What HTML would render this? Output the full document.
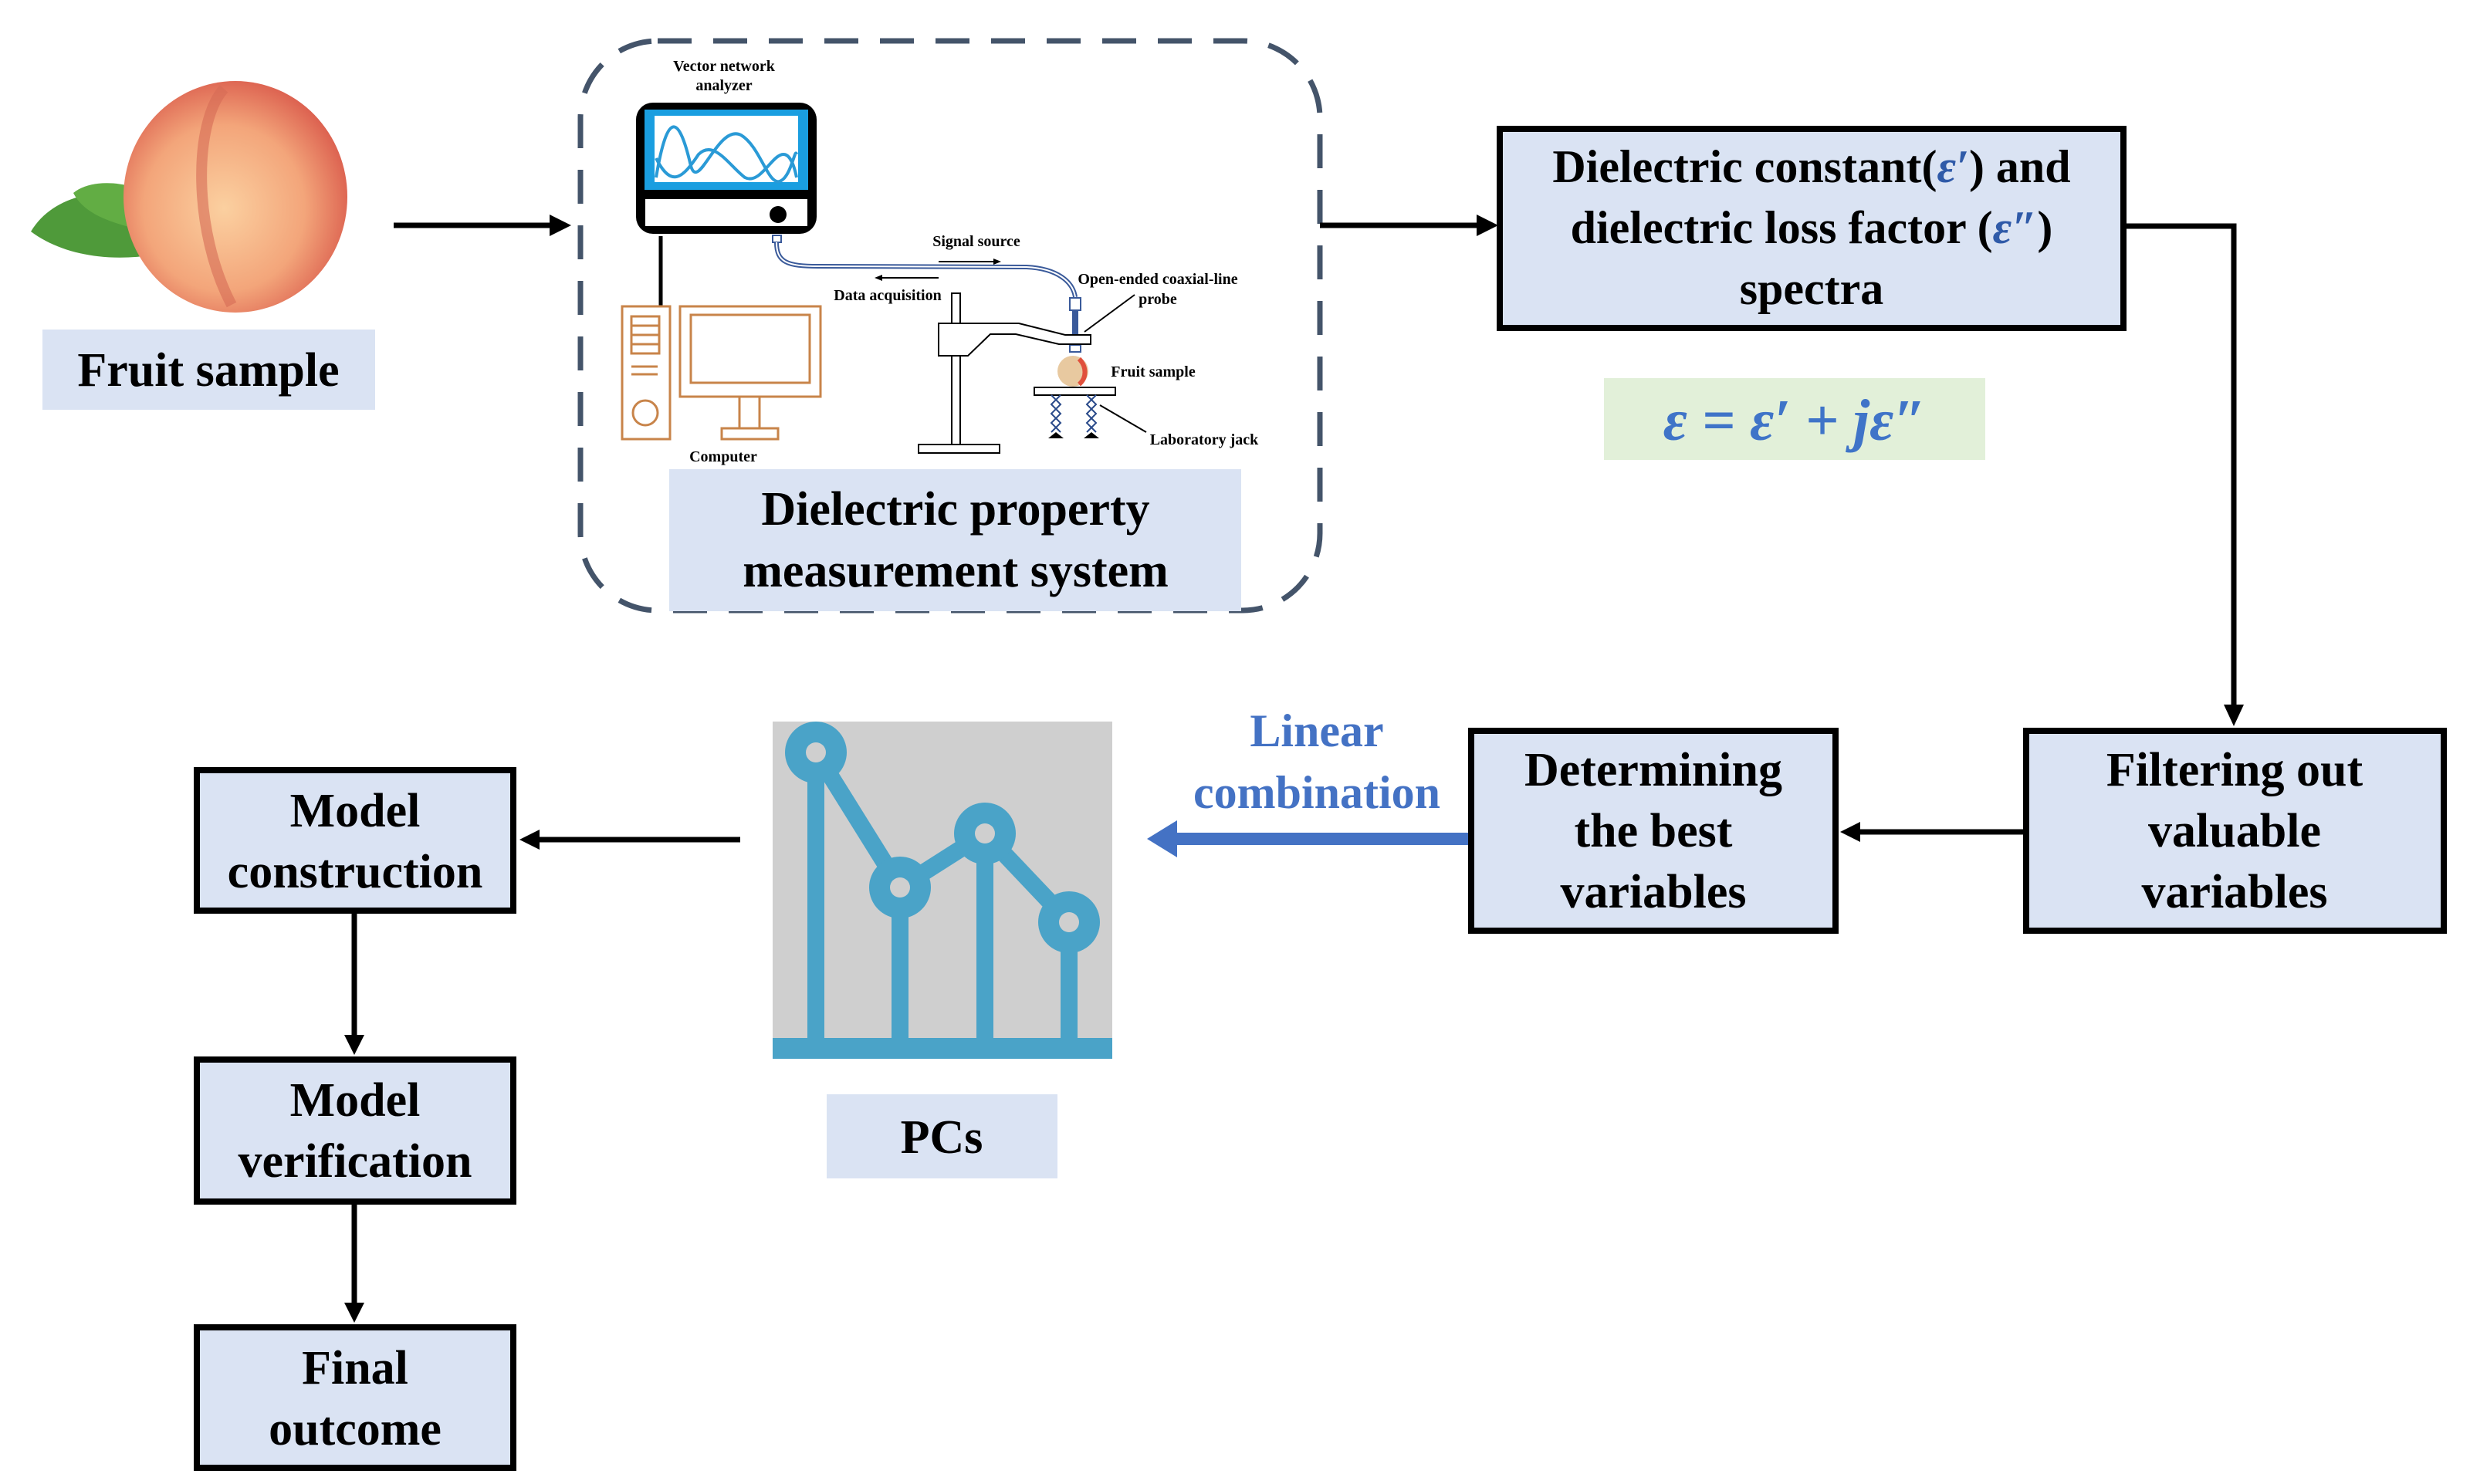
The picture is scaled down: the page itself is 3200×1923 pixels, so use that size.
<!DOCTYPE html>
<html><head><meta charset="utf-8"><style>
html,body{margin:0;padding:0;background:#fff}
svg{display:block}
text{font-family:"Liberation Serif",serif;font-weight:bold}
</style></head><body>
<svg width="3200" height="1923" viewBox="0 0 3200 1923" xmlns="http://www.w3.org/2000/svg">
<defs>
<radialGradient id="pg" cx="0.45" cy="0.55" r="0.6">
<stop offset="0" stop-color="#fbd0a0"/><stop offset="0.6" stop-color="#f3a57a"/><stop offset="1" stop-color="#d9584a"/>
</radialGradient>
<marker id="ah" markerWidth="6" markerHeight="6" refX="5" refY="3" orient="auto" markerUnits="strokeWidth"><path d="M0,0 L6,3 L0,6 z" fill="#000"/></marker>
</defs>
<!-- peach -->
<path d="M40,300 C70,250 140,240 190,260 L200,330 C140,340 80,330 40,300z" fill="#4f9a3a"/>
<path d="M95,250 C120,230 170,235 200,255 L190,300 C150,290 110,280 95,250z" fill="#62ad44"/>
<ellipse cx="305" cy="255" rx="145" ry="150" fill="url(#pg)"/>
<path d="M290,115 C250,160 250,300 300,395" stroke="#d66a55" stroke-width="14" fill="none" opacity="0.6"/>
<!-- Fruit sample label -->
<rect x="55" y="427" width="431" height="104" fill="#dae3f3"/>
<text x="270" y="500" font-size="62" text-anchor="middle">Fruit sample</text>
<!-- arrow1 -->
<line x1="510" y1="292" x2="715" y2="292" stroke="#000" stroke-width="7"/>
<path d="M740,292 L712,278 L712,306z" fill="#000"/>
<!-- dashed box -->
<rect x="752" y="53" width="958" height="738" rx="100" fill="none" stroke="#44546a" stroke-width="7" stroke-dasharray="44,28"/>
<!-- device -->
<rect x="824" y="133" width="234" height="170" rx="22" fill="#000"/>
<rect x="835" y="142" width="212" height="104" fill="#1a9ee0"/>
<rect x="848" y="150" width="186" height="86" fill="#fff"/>
<path d="M850,230 C865,140 880,150 895,215 C905,250 930,160 960,175 C985,190 995,240 1010,235 C1025,230 1030,190 1032,200" stroke="#2a9ad6" stroke-width="4" fill="none"/>
<path d="M850,205 C870,245 885,230 905,200 C925,180 945,215 965,230 C985,240 1000,200 1015,200 C1025,200 1030,220 1032,230" stroke="#2a9ad6" stroke-width="4" fill="none"/>
<rect x="836" y="258" width="210" height="35" fill="#fff"/>
<circle cx="1008" cy="278" r="11" fill="#000"/>
<rect x="1001" y="305" width="11" height="9" fill="#fff" stroke="#3a5a9a" stroke-width="2"/>
<path d="M1006,314 C1006,340 1020,345 1060,345 L1330,346 C1370,348 1390,365 1393,385" stroke="#3a5a9a" stroke-width="6" fill="none"/>
<path d="M1006,314 C1006,340 1020,345 1060,345 L1330,346 C1370,348 1390,365 1393,385" stroke="#fff" stroke-width="2" fill="none"/>
<text x="1265" y="319" font-size="20" text-anchor="middle" font-weight="bold">Signal source</text>
<line x1="1216" y1="339" x2="1290" y2="339" stroke="#000" stroke-width="2"/><path d="M1297,339 L1287,335 L1287,343z"/>
<line x1="1140" y1="360" x2="1216" y2="360" stroke="#000" stroke-width="2"/><path d="M1133,360 L1143,356 L1143,364z"/>
<text x="1150" y="389" font-size="20" text-anchor="middle">Data acquisition</text>
<text x="1500" y="368" font-size="20" text-anchor="middle">Open-ended coaxial-line</text>
<text x="1500" y="394" font-size="20" text-anchor="middle">probe</text>
<line x1="1470" y1="382" x2="1405" y2="430" stroke="#000" stroke-width="2"/>
<rect x="1386" y="386" width="14" height="16" fill="#fff" stroke="#3a5a9a" stroke-width="2"/>
<rect x="1389" y="402" width="8" height="45" fill="#3a5a9a"/>
<rect x="1386" y="447" width="14" height="9" fill="#fff" stroke="#3a5a9a" stroke-width="2"/>
<rect x="1233" y="380" width="11" height="196" fill="#fff" stroke="#000" stroke-width="2"/>
<rect x="1190" y="576" width="105" height="11" fill="#fff" stroke="#000" stroke-width="2"/>
<path d="M1216,419 L1320,419 L1380,434 L1413,434 L1413,446 L1372,446 L1316,433 L1283,433 L1254,461 L1216,461z" fill="#fff" stroke="#000" stroke-width="2"/>
<ellipse cx="1390" cy="481" rx="20" ry="20" fill="#e8c9a0"/><path d="M1398,465 C1408,475 1408,490 1398,498" stroke="#e0503c" stroke-width="6" fill="none"/>
<rect x="1340" y="502" width="105" height="10" fill="#fff" stroke="#000" stroke-width="2"/>
<path d="M1362,512 L1374,524 L1362,536 L1374,548 L1362,560 M1374,512 L1362,524 L1374,536 L1362,548 L1374,560 M1408,512 L1420,524 L1408,536 L1420,548 L1408,560 M1420,512 L1408,524 L1420,536 L1408,548 L1420,560" stroke="#2a4a8a" stroke-width="2" fill="none"/>
<path d="M1358,568 L1368,560 L1378,568z M1404,568 L1414,560 L1424,568z" fill="#000"/>
<text x="1494" y="488" font-size="20" text-anchor="middle">Fruit sample</text>
<line x1="1425" y1="525" x2="1485" y2="560" stroke="#000" stroke-width="2"/>
<text x="1560" y="576" font-size="20" text-anchor="middle">Laboratory jack</text>
<line x1="856" y1="306" x2="856" y2="396" stroke="#000" stroke-width="5"/>
<g stroke="#c8844a" stroke-width="3" fill="none">
<rect x="806" y="397" width="62" height="172"/>
<rect x="818" y="410" width="36" height="48"/><line x1="818" y1="422" x2="854" y2="422"/><line x1="818" y1="434" x2="854" y2="434"/><line x1="818" y1="446" x2="854" y2="446"/>
<line x1="818" y1="475" x2="852" y2="475"/><line x1="818" y1="485" x2="852" y2="485"/>
<circle cx="836" cy="535" r="16"/>
<rect x="881" y="397" width="182" height="117"/><rect x="895" y="408" width="154" height="88"/>
<rect x="958" y="514" width="26" height="41"/><rect x="935" y="555" width="73" height="14"/>
</g>
<text x="937" y="598" font-size="20" text-anchor="middle">Computer</text>
<text x="938" y="92" font-size="20" text-anchor="middle">Vector network</text>
<text x="938" y="117" font-size="20" text-anchor="middle">analyzer</text>
<!-- dielectric label -->
<rect x="867" y="608" width="741" height="184" fill="#dae3f3"/>
<text x="1238" y="680" font-size="62" text-anchor="middle">Dielectric property</text>
<text x="1238" y="760" font-size="62" text-anchor="middle">measurement system</text>
<!-- arrow2 -->
<line x1="1710" y1="292" x2="1915" y2="292" stroke="#000" stroke-width="7"/>
<path d="M1941,292 L1913,278 L1913,306z" fill="#000"/>
<!-- spectra box -->
<rect x="1943" y="167" width="808" height="258" fill="#dae3f3" stroke="#000" stroke-width="8"/>
<text x="2347" y="236" font-size="60" text-anchor="middle">Dielectric constant(<tspan fill="#2f5aa8" font-style="italic">ε′</tspan>) and</text>
<text x="2347" y="315" font-size="60" text-anchor="middle">dielectric loss factor (<tspan fill="#2f5aa8" font-style="italic">ε″</tspan>)</text>
<text x="2347" y="394" font-size="60" text-anchor="middle">spectra</text>
<!-- formula -->
<rect x="2078" y="490" width="494" height="106" fill="#e2f0d9"/>
<text x="2325" y="570" font-size="76" text-anchor="middle" fill="#3f74c8" font-style="italic">ε = ε′ + jε″</text>
<!-- connector to filtering -->
<polyline points="2755,293 2894,293 2894,915" fill="none" stroke="#000" stroke-width="7"/>
<path d="M2894,941 L2881,913 L2907,913z" fill="#000"/>
<!-- filtering -->
<rect x="2625" y="947" width="541" height="259" fill="#dae3f3" stroke="#000" stroke-width="8"/>
<text x="2895" y="1018" font-size="62" text-anchor="middle">Filtering out</text>
<text x="2895" y="1097" font-size="62" text-anchor="middle">valuable</text>
<text x="2895" y="1176" font-size="62" text-anchor="middle">variables</text>
<line x1="2621" y1="1078" x2="2405" y2="1078" stroke="#000" stroke-width="7"/>
<path d="M2384,1078 L2410,1065 L2410,1091z" fill="#000"/>
<!-- determining -->
<rect x="1906" y="947" width="472" height="259" fill="#dae3f3" stroke="#000" stroke-width="8"/>
<text x="2142" y="1018" font-size="62" text-anchor="middle">Determining</text>
<text x="2142" y="1097" font-size="62" text-anchor="middle">the best</text>
<text x="2142" y="1176" font-size="62" text-anchor="middle">variables</text>
<!-- blue arrow -->
<line x1="1902" y1="1087" x2="1520" y2="1087" stroke="#4472c4" stroke-width="16"/>
<path d="M1486,1087 L1525,1063 L1525,1111z" fill="#4472c4"/>
<text x="1706" y="967" font-size="60" text-anchor="middle" fill="#4472c4">Linear</text>
<text x="1706" y="1047" font-size="60" text-anchor="middle" fill="#4472c4">combination</text>
<!-- PCs icon -->
<rect x="1001" y="935" width="440" height="436" fill="#cfcfcf"/>
<g stroke="#4aa3c8" fill="none" stroke-width="22">
<line x1="1057" y1="975" x2="1057" y2="1355"/>
<line x1="1166" y1="1150" x2="1166" y2="1355"/>
<line x1="1276" y1="1080" x2="1276" y2="1355"/>
<line x1="1385" y1="1195" x2="1385" y2="1355"/>
<polyline points="1057,975 1166,1150 1276,1080 1385,1195"/>
</g>
<g fill="#4aa3c8"><circle cx="1057" cy="975" r="40"/><circle cx="1166" cy="1150" r="40"/><circle cx="1276" cy="1080" r="40"/><circle cx="1385" cy="1195" r="40"/></g>
<g fill="#cfcfcf"><circle cx="1057" cy="975" r="13"/><circle cx="1166" cy="1150" r="13"/><circle cx="1276" cy="1080" r="13"/><circle cx="1385" cy="1195" r="13"/></g>
<rect x="1001" y="1345" width="440" height="27" fill="#4aa3c8"/>
<rect x="1071" y="1418" width="299" height="109" fill="#dae3f3"/>
<text x="1220" y="1494" font-size="62" text-anchor="middle">PCs</text>
<!-- arrow to model construction -->
<line x1="959" y1="1088" x2="695" y2="1088" stroke="#000" stroke-width="7"/>
<path d="M673,1088 L699,1075 L699,1101z" fill="#000"/>
<!-- model boxes -->
<rect x="255" y="998" width="410" height="182" fill="#dae3f3" stroke="#000" stroke-width="8"/>
<text x="460" y="1071" font-size="62" text-anchor="middle">Model</text>
<text x="460" y="1150" font-size="62" text-anchor="middle">construction</text>
<line x1="459" y1="1184" x2="459" y2="1345" stroke="#000" stroke-width="7"/>
<path d="M459,1367 L446,1341 L472,1341z" fill="#000"/>
<rect x="255" y="1373" width="410" height="184" fill="#dae3f3" stroke="#000" stroke-width="8"/>
<text x="460" y="1446" font-size="62" text-anchor="middle">Model</text>
<text x="460" y="1525" font-size="62" text-anchor="middle">verification</text>
<line x1="459" y1="1561" x2="459" y2="1692" stroke="#000" stroke-width="7"/>
<path d="M459,1714 L446,1688 L472,1688z" fill="#000"/>
<rect x="255" y="1720" width="410" height="182" fill="#dae3f3" stroke="#000" stroke-width="8"/>
<text x="460" y="1793" font-size="62" text-anchor="middle">Final</text>
<text x="460" y="1872" font-size="62" text-anchor="middle">outcome</text>
</svg>
</body></html>
